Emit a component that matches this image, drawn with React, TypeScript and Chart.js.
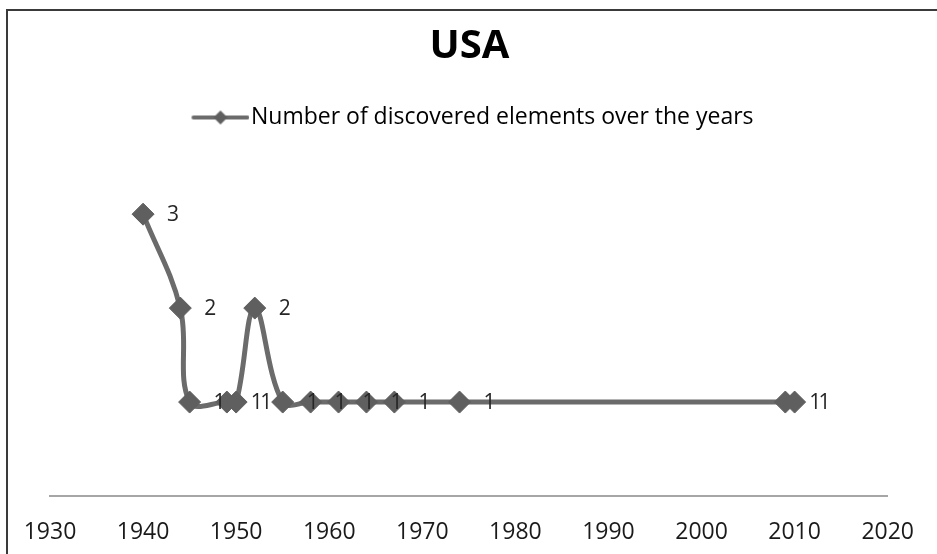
import React, { useEffect, useRef } from "react";
import { Chart, registerables } from "chart.js";

Chart.register(...registerables);

const title = "USA";
const seriesName = "Number of discovered elements over the years";
const years = [1940, 1944, 1945, 1949, 1950, 1952, 1955, 1958, 1961, 1964, 1967, 1974, 2009, 2010];
const counts = [3, 2, 1, 1, 1, 2, 1, 1, 1, 1, 1, 1, 1, 1];
const xTicks = [1930, 1940, 1950, 1960, 1970, 1980, 1990, 2000, 2010, 2020];

const FONT = "'Open Sans', 'Liberation Sans', sans-serif";
const LINE = "#6b6b6b";
const MARK = "#5f5f5f";

function legendImage(): HTMLCanvasElement {
  const c = document.createElement("canvas");
  c.width = 74;
  c.height = 16;
  const g = c.getContext("2d")!;
  g.strokeStyle = LINE;
  g.lineWidth = 4;
  g.lineCap = "round";
  g.beginPath();
  g.moveTo(18, 8);
  g.lineTo(72, 8);
  g.stroke();
  g.fillStyle = MARK;
  const cx = 45;
  g.beginPath();
  g.moveTo(cx - 7, 8);
  g.lineTo(cx, 1);
  g.lineTo(cx + 7, 8);
  g.lineTo(cx, 15);
  g.closePath();
  g.fill();
  return c;
}

const frame = {
  id: "frame",
  beforeDraw(chart: any) {
    const ctx = chart.ctx;
    ctx.save();
    ctx.fillStyle = "#ffffff";
    ctx.fillRect(0, 0, chart.width, chart.height);
    ctx.strokeStyle = "#3a3a3a";
    ctx.lineWidth = 2;
    ctx.beginPath();
    ctx.moveTo(7, chart.height);
    ctx.lineTo(7, 10);
    ctx.lineTo(chart.width, 10);
    ctx.stroke();
    ctx.restore();
  },
};

const valueLabels = {
  id: "valueLabels",
  afterDatasetsDraw(chart: any) {
    const ctx = chart.ctx;
    const meta = chart.getDatasetMeta(0);
    ctx.save();
    ctx.font = `21px ${FONT}`;
    ctx.fillStyle = "#262626";
    ctx.textAlign = "left";
    ctx.textBaseline = "middle";
    meta.data.forEach((pt: any, i: number) => {
      ctx.fillText(String(counts[i]), pt.x + 24, pt.y + 1);
    });
    ctx.restore();
  },
};

export default function App() {
  const ref = useRef<HTMLCanvasElement>(null);
  useEffect(() => {
    if (!ref.current) return;
    const img = legendImage();
    const chart = new Chart(ref.current, {
      type: "scatter",
      data: {
        datasets: [
          {
            label: seriesName,
            data: years.map((y, i) => ({ x: y, y: counts[i] })),
            showLine: true,
            borderColor: LINE,
            borderWidth: 5,
            tension: 0.38,
            pointStyle: "rectRot",
            pointRadius: 11,
            pointBackgroundColor: MARK,
            pointBorderColor: MARK,
            pointBorderWidth: 1,
          },
        ],
      },
      options: {
        responsive: false,
        animation: false,
        layout: { padding: { left: 50, right: 48, top: 0, bottom: 0 } },
        plugins: {
          title: {
            display: true,
            text: title,
            color: "#000000",
            font: { family: FONT, size: 40, weight: "bold" },
            padding: { top: 23, bottom: 25 },
          },
          legend: {
            display: true,
            labels: {
              usePointStyle: true,
              pointStyleWidth: 54,
              color: "#1a1a1a",
              font: { family: FONT, size: 23 },
              padding: 10,
              generateLabels: () => [
                {
                  text: seriesName,
                  pointStyle: img as any,
                  fillStyle: MARK,
                  strokeStyle: MARK,
                  lineWidth: 0,
                  datasetIndex: 0,
                  hidden: false,
                },
              ],
            },
          },
          tooltip: { enabled: false },
        },
        scales: {
          x: {
            type: "linear",
            min: 1930,
            max: 2020,
            afterBuildTicks: (axis: any) => {
              axis.ticks = xTicks.map((v) => ({ value: v }));
            },
            afterFit: (axis: any) => {
              axis.height = 58;
            },
            grid: { display: false, drawTicks: false },
            border: { display: true, color: "#a6a6a6", width: 2 },
            ticks: {
              color: "#1a1a1a",
              font: { family: FONT, size: 23 },
              padding: 23,
              maxRotation: 0,
              autoSkip: false,
              callback: (v: any) => String(v),
            },
          },
          y: {
            display: false,
            min: 0,
            max: 3.8,
          },
        },
      },
      plugins: [frame, valueLabels],
    });
    return () => chart.destroy();
  }, []);
  return (
    <div style={{ position: "fixed", left: 0, top: 0, width: 937, height: 554 }}>
      <canvas ref={ref} width={937} height={554} style={{ display: "block" }} />
    </div>
  );
}
